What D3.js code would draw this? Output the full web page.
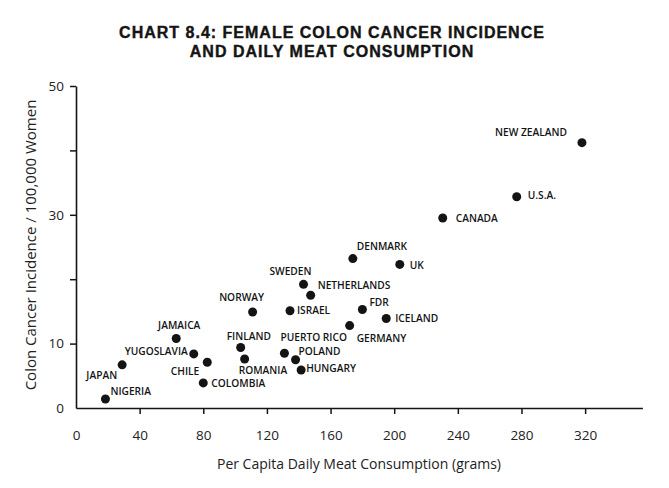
<!DOCTYPE html>
<html><head><meta charset="utf-8">
<script src="https://cdn.jsdelivr.net/npm/d3@7"></script>
<style>body{margin:0;background:#fff}</style>
</head><body>
<script>
const countries = ["NEW ZEALAND","U.S.A.","CANADA","DENMARK","UK","SWEDEN","NETHERLANDS","NORWAY","ISRAEL","FDR","ICELAND","GERMANY","PUERTO RICO","FINLAND","POLAND","HUNGARY","ROMANIA","JAMAICA","YUGOSLAVIA","CHILE","COLOMBIA","JAPAN","NIGERIA"];
const meat =      [318, 277, 230.5, 174, 203.5, 143, 147.5, 111, 134.5, 180, 195, 172, 131, 103.5, 138, 141.5, 106, 63, 74, 82.5, 80, 29, 18.5];
const incidence = [41.2, 32.8, 29.5, 23.2, 22.3, 19.2, 17.5, 14.9, 15.1, 15.3, 13.9, 12.8, 8.5, 9.4, 7.5, 5.9, 7.6, 10.8, 8.4, 7.1, 3.9, 6.7, 1.4];
// label placement: [dx, dy, anchor]
const labelPos = [[-15,-10,"end"],[11,-1,"start"],[13,0,"start"],[4,-12,"start"],[10,1,"start"],[8,-13,"end"],[7,-10,"start"],[-11,-15,"middle"],[7,0,"start"],[7,-7,"start"],[9,0,"start"],[7,13,"start"],[-4,-16,"start"],[-14,-11,"start"],[3,-8,"start"],[5,-2,"start"],[-6,11,"start"],[3,-13,"middle"],[-6,-3,"end"],[-8,9,"end"],[8,0,"start"],[-5,10,"end"],[5,-8,"start"]];
const xTicks = [0,40,80,120,160,200,240,280,320];
const yTicks = [0,10,20,30,40,50];
const yLabeled = [0,10,30,50];
const title1 = "CHART 8.4: FEMALE COLON CANCER INCIDENCE";
const title2 = "AND DAILY MEAT CONSUMPTION";
const xTitle = "Per Capita Daily Meat Consumption (grams)";
const yTitle = "Colon Cancer Incidence / 100,000 Women";

const W = 669, H = 488;
const svg = d3.select("body").append("svg").attr("width", W).attr("height", H);
const x = d3.scaleLinear().domain([0, 356]).range([76, 642.4]);
const y = d3.scaleLinear().domain([0, 50]).range([408, 86]);
const ink = "#141414";
const font = "'Open Sans', 'Liberation Sans', sans-serif";

[[title1, 38], [title2, 57]].forEach(([t, yy]) => {
  svg.append("text").attr("x", 332).attr("y", yy).attr("text-anchor", "middle")
    .attr("font-family", "'Liberation Sans', Arial, sans-serif").attr("font-weight", 700).attr("font-size", 16)
    .attr("letter-spacing", 1.0).attr("fill", ink).attr("stroke", ink).attr("stroke-width", 0.4).text(t);
});

const xa = svg.append("g").attr("transform", `translate(0,${y(0)})`)
  .call(d3.axisBottom(x).tickValues(xTicks).tickSize(6).tickSizeOuter(0).tickPadding(16).tickFormat(d3.format("d")));
xa.selectAll(".tick").filter(d => d === 0).select("line").remove();
const ya = svg.append("g").attr("transform", `translate(${x(0)},0)`)
  .call(d3.axisLeft(y).tickValues(yTicks).tickSize(6).tickSizeOuter(0).tickPadding(6).tickFormat(d => yLabeled.includes(d) ? d : ""));
ya.selectAll(".tick").filter(d => d === 0).select("line").remove();
[xa, ya].forEach(g => {
  g.select(".domain").attr("stroke", ink).attr("stroke-width", 1.6);
  g.selectAll(".tick line").attr("stroke", ink).attr("stroke-width", 1.5);
  g.selectAll(".tick text").attr("font-family", font).attr("font-size", 13.5).attr("fill", "#222");
});

svg.append("text").attr("x", 359).attr("y", 469).attr("text-anchor", "middle")
  .attr("font-family", font).attr("font-size", 14).attr("fill", "#222").text(xTitle);
svg.append("text").attr("transform", "translate(36,245) rotate(-90)").attr("text-anchor", "middle")
  .attr("font-family", font).attr("font-size", 15).attr("fill", "#222").text(yTitle);

const data = countries.map((c, i) => ({c, m: meat[i], v: incidence[i], p: labelPos[i]}));
svg.append("g").selectAll("circle").data(data).join("circle")
  .attr("cx", d => x(d.m)).attr("cy", d => y(d.v)).attr("r", 4.5).attr("fill", ink);
svg.append("g").selectAll("text").data(data).join("text")
  .attr("x", d => x(d.m) + d.p[0]).attr("y", d => y(d.v) + d.p[1])
  .attr("dy", "0.36em").attr("text-anchor", d => d.p[2])
  .attr("font-family", font).attr("font-weight", 600).attr("font-size", 10.2).attr("fill", ink).text(d => d.c);
</script>
</body></html>
